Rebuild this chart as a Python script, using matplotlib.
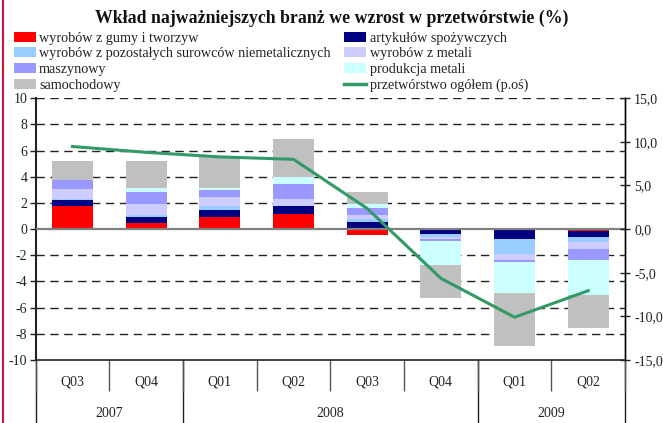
import matplotlib
matplotlib.use("Agg")
import matplotlib.pyplot as plt
import numpy as np
from matplotlib.patches import Patch
from matplotlib.lines import Line2D

plt.rcParams.update({
    "font.family": ["Liberation Serif", "DejaVu Serif"],
    "font.size": 10,
    "axes.unicode_minus": False,
    "text.color": "#222222",
    "xtick.color": "#222222",
    "ytick.color": "#222222",
})

quarters = ["Q03", "Q04", "Q01", "Q02", "Q03", "Q04", "Q01", "Q02"]
years = ["2007", "2007", "2008", "2008", "2008", "2008", "2009", "2009"]

series_names = [
    "wyrobów z gumy i tworzyw",
    "artykułów spożywczych",
    "wyrobów z pozostałych surowców niemetalicznych",
    "wyrobów z metali",
    "maszynowy",
    "produkcja metali",
    "samochodowy",
]
series_colors = ["#ff0000", "#000080", "#99ccff", "#ccccff", "#9999ff", "#ccffff", "#c0c0c0"]

gumy = [1.78, 0.46, 0.92, 1.14, -0.46, -0.05, -0.05, -0.15]
spozywcze = [0.46, 0.46, 0.53, 0.62, 0.53, -0.33, -0.71, -0.46]
pozostale = [0.07, 0.15, 0.31, -0.10, 0.23, -0.21, -1.15, -0.38]
metale_wyroby = [0.74, 0.84, 0.68, 0.53, 0.31, -0.15, -0.46, -0.54]
maszynowy = [0.69, 0.92, 0.54, 1.15, 0.53, -0.18, -0.15, -0.84]
metale_prod = [0.00, 0.30, 0.15, 0.53, 0.31, -1.83, -2.37, -2.67]
samochodowy = [1.45, 2.06, 2.39, 2.90, 0.91, -2.49, -4.01, -2.52]

przetworstwo = [9.47, 8.80, 8.28, 8.00, 2.37, -5.64, -10.10, -7.06]

series = [gumy, spozywcze, pozostale, metale_wyroby, maszynowy, metale_prod, samochodowy]

fig = plt.figure(figsize=(6.63, 4.23), dpi=100)
ax = fig.add_axes([0.0538, 0.149, 0.8889, 0.6187])

x = np.arange(len(quarters))
pos_base = np.zeros(len(x))
neg_base = np.zeros(len(x))
for vals, col in zip(series, series_colors):
    v = np.array(vals)
    base = np.where(v >= 0, pos_base, neg_base)
    ax.bar(x, v, 0.556, bottom=base, color=col, linewidth=0, zorder=2)
    pos_base += np.where(v >= 0, v, 0)
    neg_base += np.where(v < 0, v, 0)

ax.set_xlim(-0.5, len(x) - 0.5)
ax.set_ylim(-10, 10)
ax.set_yticks(np.arange(-10, 11, 2))
ax.tick_params(axis="y", direction="out", length=4, width=1, pad=2, labelsize=10)
for yv in np.arange(-8, 11, 2):
    if yv == 0:
        continue
    ax.axhline(yv, color="#222222", lw=1, ls=(0, (6, 4)), zorder=1)
ax.axhline(0, color="#808080", lw=1.6, zorder=3)

ax.spines["top"].set_visible(False)
ax.spines["left"].set_linewidth(1.5)
ax.spines["left"].set_color("#222222")
ax.spines["bottom"].set_color("#222222")
ax.spines["bottom"].set_linewidth(1.2)
ax.spines["right"].set_linewidth(1)
ax.spines["right"].set_color("#222222")

# quarter labels and separators
ax.set_xticks(np.arange(-0.5, len(x), 1.0))
ax.set_xticklabels([])
ax.tick_params(axis="x", which="major", length=22, width=1, color="#555555", direction="out")
ax.set_xticks(x, minor=True)
ax.set_xticklabels(quarters, minor=True)
ax.tick_params(axis="x", which="minor", length=0, pad=11, labelsize=10)

# year level
uniq = list(dict.fromkeys(years))
bounds = [-0.5]
centers = []
for yr in uniq:
    idx = [i for i, yy in enumerate(years) if yy == yr]
    centers.append((idx[0] + idx[-1]) / 2)
    bounds.append(idx[-1] + 0.5)
sec = ax.secondary_xaxis(0)
sec.set_xticks(bounds)
sec.set_xticklabels([])
sec.tick_params(axis="x", which="major", length=46, width=1, color="#222222")
sec.set_xticks(centers, minor=True)
sec.set_xticklabels(uniq, minor=True)
sec.tick_params(axis="x", which="minor", length=0, pad=34, labelsize=10)
for s in sec.spines.values():
    s.set_visible(False)

ax2 = ax.twinx()
ax2.plot(x, przetworstwo, color="#339966", lw=2.2, zorder=5)
ax2.set_ylim(-15, 15)
ax2.set_yticks(np.arange(-15, 16, 5))
ax2.set_yticklabels([f"{v:.1f}".replace(".", ",") for v in np.arange(-15, 16, 5)])
ax2.tick_params(axis="y", direction="inout", length=7, width=1, pad=3, labelsize=10)
for s in ["top", "left", "bottom"]:
    ax2.spines[s].set_visible(False)
ax2.spines["right"].set_linewidth(1)

fig.text(0.5008, 0.9567, "Wkład najważniejszych branż we wzrost w przetwórstwie (%)",
         ha="center", va="center", fontsize=12.8, fontweight="bold", color="#111111")

handles = [Patch(facecolor=c, edgecolor="none") for c in series_colors]
handles.append(Line2D([0], [0], color="#339966", lw=2.5))
labels = series_names + ["przetwórstwo ogółem (p.oś)"]
order = [0, 2, 4, 6, 1, 3, 5, 7]
fig.legend([handles[i] for i in order], [labels[i] for i in order],
           loc="upper left", bbox_to_anchor=(0.0205, 0.9255), ncol=2, frameon=False,
           fontsize=10.2, borderpad=0, handlelength=1.55, handleheight=0.7,
           handletextpad=0.25, columnspacing=0.94, labelspacing=0.2, borderaxespad=0)

fig.add_artist(Line2D([0.005, 0.005], [0, 1], transform=fig.transFigure, color="#cc1144", lw=1.5))

fig.savefig("out.png", dpi=100)
